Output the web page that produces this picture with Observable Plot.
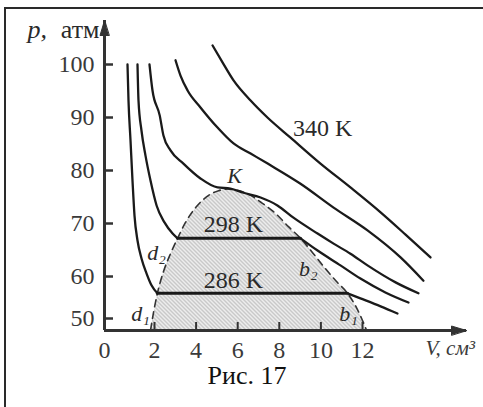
<!DOCTYPE html>
<html>
<head>
<meta charset="utf-8">
<script src="https://cdn.jsdelivr.net/npm/d3@7"></script>
<script src="https://cdn.jsdelivr.net/npm/@observablehq/plot@0.6"></script>
<style>
  html, body { margin: 0; padding: 0; background: #fff; overflow: hidden; }
  #wrap { position: relative; width: 483px; height: 407px; }
  #frame { position: absolute; left: 4px; top: 7px; width: 490px; height: 420px;
           border-top: 2.5px solid #2a2a2a; border-left: 2.5px solid #2a2a2a; }
  #chart { position: absolute; left: 0; top: 0; }
  #caption { position: absolute; left: 147px; width: 200px; top: 363px; text-align: center;
             font-size: 26px; line-height: 26px; color: #111;
             font-family: "Liberation Serif", "Tinos", "Times New Roman", "DejaVu Serif", serif; }
</style>
</head>
<body>
<div id="wrap">
  <div id="frame"></div>
  <div id="chart"></div>
  <div id="caption">Рис. 17</div>
</div>
<script>
// ---- data (V in cm^3, p in atm) ----
const xTicks = [0, 2, 4, 6, 8, 10, 12];
const yTicks = [50, 60, 70, 80, 90, 100];

// 286 K isotherm
const t286LeftV  = [0.92, 0.96, 1.04, 1.12, 1.2, 1.32, 1.48, 1.68, 1.88, 2.14];
const t286LeftP  = [100, 93.2, 85.7, 78.1, 71.5, 66.8, 63.4, 60.6, 57.9, 56];
const t286FlatV  = [2.14, 11.28];
const t286FlatP  = [56, 56];
const t286RightV = [11.28, 11.9, 12.87, 13.68];
const t286RightP = [56, 54.8, 52.9, 51.2];

// 298 K isotherm
const t298LeftV  = [1.32, 1.36, 1.48, 1.64, 1.84, 2.1, 2.48, 2.87, 3.11];
const t298LeftP  = [100, 93.2, 87.5, 82.8, 78.1, 73.4, 70.2, 68.1, 67.2];
const t298FlatV  = [3.11, 9.02];
const t298FlatP  = [67.2, 67.2];
const t298RightV = [9.02, 9.84, 10.94, 11.9, 13.1, 14.21];
const t298RightP = [67.2, 64.9, 62.1, 59.5, 56.2, 53.8];

// critical isotherm (through K)
const tCritV = [1.8, 1.92, 2.25, 2.43, 2.77, 3.39, 4.21, 5.03, 5.65, 6.28, 7.1, 7.91, 8.68, 9.84, 10.61, 11.42, 12.24, 13.59, 14.69];
const tCritP = [100, 95.1, 90.4, 86.6, 83.8, 81.3, 78.5, 76.8, 76.6, 75.8, 74.9, 73.4, 71.1, 68.1, 66.2, 64.3, 62.1, 58.6, 56];

// isotherm above critical
const tHighV = [3.01, 3.25, 3.59, 4.21, 5.03, 5.8, 6.62, 7.44, 9.02, 10.61, 12.24, 13.83, 14.93];
const tHighP = [100.8, 97.9, 95.1, 91.9, 88.1, 85.1, 83.2, 81.3, 77.5, 73.0, 68.7, 63.6, 59.0];

// 340 K isotherm
const t340V = [4.79, 5.27, 5.8, 6.62, 7.43, 8.54, 9.98, 11.42, 12.87, 14.07, 15.27];
const t340P = [103.6, 100.4, 97.0, 93.2, 90.0, 86.2, 81.3, 76.8, 72.1, 67.9, 63.6];

// two-phase dome (dashed boundary)
const domeV = [1.84, 1.96, 2.14, 2.43, 2.77, 3.11, 3.49, 4.02, 4.6, 5.08, 5.51, 6.04, 6.62, 7.19, 7.82, 8.44, 9.02, 9.6, 10.17, 10.75, 11.28, 11.71, 12.0, 12.2];
const domeP = [47, 51.4, 56, 60.9, 64.3, 67.2, 70.2, 73.2, 75.3, 76.2, 76.5, 76.2, 75.3, 73.8, 71.9, 69.4, 67.2, 64.5, 61.7, 58.8, 56, 52.6, 49.5, 47];

// annotations
const uprightText = ["340 K", "298 K", "286 K"];
const uprightV    = [10.08, 5.8, 5.8];
const uprightP    = [87.9, 69.8, 59.0];
const italicText  = ["K", "d₁", "d₂", "b₁", "b₂"];
const italicV     = [5.85, 1.44, 2.1, 11.33, 9.4];
const italicP     = [78.9, 51.2, 64.5, 51.0, 61.5];

// ---- build tables ----
function seg(key, V, P) { return V.map((v, i) => ({key, V: v, p: P[i]})); }
const curves = [
  ...seg("286L", t286LeftV, t286LeftP),
  ...seg("286R", t286RightV, t286RightP),
  ...seg("298L", t298LeftV, t298LeftP),
  ...seg("298R", t298RightV, t298RightP),
  ...seg("crit", tCritV, tCritP),
  ...seg("high", tHighV, tHighP),
  ...seg("340", t340V, t340P)
];
const flats = [...seg("286F", t286FlatV, t286FlatP), ...seg("298F", t298FlatV, t298FlatP)];
const dome = domeV.map((v, i) => ({V: v, p: domeP[i]}));
const up = uprightText.map((t, i) => ({t, V: uprightV[i], p: uprightP[i]}));
const it = italicText.map((t, i) => ({t, V: italicV[i], p: italicP[i]}));

const arrowShape = {
  draw(context, l) {
    context.moveTo(0, -l);
    context.lineTo(-4.5, 0);
    context.lineTo(4.5, 0);
    context.closePath();
  }
};

const ink = "#1a1a1a";
const axisInk = "#333";
const serif = '"Liberation Serif", "Tinos", "Times New Roman", "DejaVu Serif", serif';

const chart = Plot.plot({
  width: 483,
  height: 407,
  marginLeft: 104,
  marginRight: 17,
  marginTop: 20,
  marginBottom: 77,
  style: {fontFamily: serif, fontSize: "24px", background: "transparent", color: axisInk},
  x: {type: "linear", domain: [0, 2, 17], range: [104, 154, 466]},
  y: {type: "linear", domain: [47, 50, 60, 100, 108.3], range: [330, 318, 276, 64, 20]},
  marks: [
    Plot.line(dome, {x: "V", y: "p", curve: "monotone-x", fill: "url(#hatch)", stroke: "none"}),
    Plot.line(dome, {x: "V", y: "p", curve: "monotone-x", stroke: "#333", strokeWidth: 1.6, strokeDasharray: "7,5"}),
    Plot.line(curves, {x: "V", y: "p", z: "key", curve: "monotone-x", stroke: ink, strokeWidth: 2.3}),
    Plot.line(flats, {x: "V", y: "p", z: "key", stroke: ink, strokeWidth: 3}),
    Plot.ruleX([0], {stroke: axisInk, strokeWidth: 3}),
    Plot.ruleY([47], {stroke: axisInk, strokeWidth: 3}),
    Plot.ruleY(yTicks, {x1: 0, x2: 0.36, stroke: axisInk, strokeWidth: 2.5}),
    Plot.ruleX(xTicks.filter(d => d > 0), {y1: 47, y2: 49, stroke: axisInk, strokeWidth: 2}),
    Plot.vector([1], {frameAnchor: "top-left", length: 15, rotate: 0, anchor: "end", shape: arrowShape, fill: axisInk, stroke: axisInk, strokeWidth: 1}),
    Plot.vector([1], {frameAnchor: "bottom-right", length: 15, rotate: 90, anchor: "end", shape: arrowShape, fill: axisInk, stroke: axisInk, strokeWidth: 1}),
    Plot.axisX({ticks: xTicks, tickSize: 0, tickPadding: 10, label: null, fontSize: 24, fontFamily: serif, fill: "#3a3a3a"}),
    Plot.axisY({ticks: yTicks, tickSize: 0, tickPadding: 10, label: null, fontSize: 24, fontFamily: serif, fill: "#3a3a3a"}),
    Plot.text(["p,"], {frameAnchor: "top-left", lineAnchor: "middle", textAnchor: "start", dx: -77, dy: 9, fontSize: 26, fontFamily: serif, fontStyle: "italic", fill: "#2a2a2a"}),
    Plot.text(["атм"], {frameAnchor: "top-left", lineAnchor: "middle", textAnchor: "end", dx: -5, dy: 9, fontSize: 26, fontFamily: serif, fill: "#2a2a2a"}),
    Plot.text(["V, см³"], {frameAnchor: "bottom-right", lineAnchor: "middle", textAnchor: "start", dx: -41, dy: 18, fontSize: 21, fontFamily: serif, fontStyle: "italic", fill: "#3a3a3a"}),
    Plot.text(up, {x: "V", y: "p", text: "t", fontSize: 24, fontFamily: serif, fill: "#2a2a2a"}),
    Plot.text(it, {x: "V", y: "p", text: "t", fontSize: 22, fontFamily: serif, fontStyle: "italic", fill: "#2a2a2a"})
  ]
});

d3.select(chart).insert("defs", ":first-child").html(
  '<pattern id="hatch" patternUnits="userSpaceOnUse" width="4" height="4">' +
  '<rect width="4" height="4" fill="#ededed"/>' +
  '<path d="M-1,-1 L5,5 M-1,3 L1,5 M3,-1 L5,1" stroke="#9c9c9c" stroke-width="0.9"/>' +
  '</pattern>'
);
document.getElementById("chart").appendChild(chart);
</script>
</body>
</html>
